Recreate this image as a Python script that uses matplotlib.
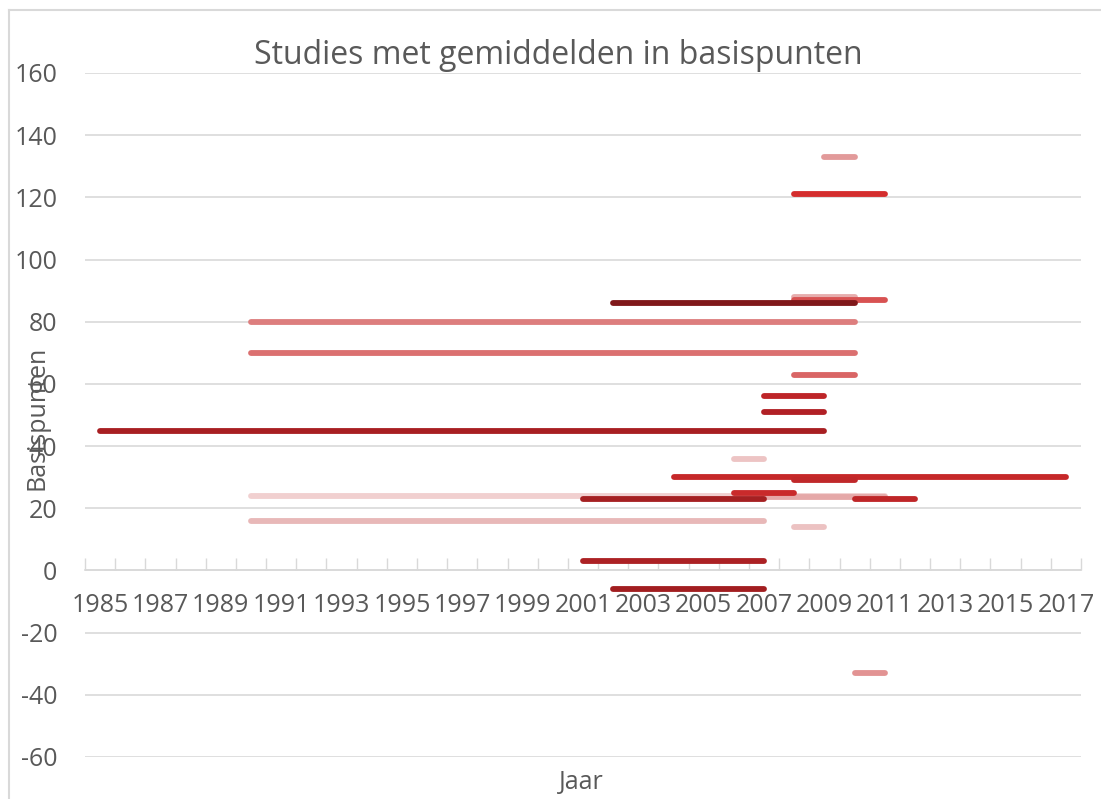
import numpy as np
import matplotlib.pyplot as plt
from matplotlib.lines import Line2D

## DATA: one horizontal segment per study (start year, end year, mean in bp)

start_year = [2009, 2008, 2008, 2008, 2002, 1990, 1990, 2008, 2007, 2007,
              1985, 2006, 2004, 2008, 1990, 2007, 2006, 2001, 2010, 1990,
              2008, 2001, 2002, 2010]
end_year = [2010, 2011, 2010, 2011, 2010, 2010, 2010, 2010, 2009, 2009,
            2009, 2007, 2017, 2010, 2011, 2011, 2008, 2007, 2012, 2007,
            2009, 2007, 2007, 2011]
mean_bp = [133, 121, 88, 87, 86, 80, 70, 63, 56, 51,
           45, 36, 30, 29, 24, 23.6, 25, 23, 23, 16,
           14, 3, -6, -33]
colors = ['#e29a9a', '#d42d2d', '#e6adad', '#d85252', '#80181a', '#dd7e7e',
          '#db7070', '#d96565', '#be2528', '#b12025', '#a81f22', '#edc4c4',
          '#c62829', '#c0282a', '#f1d0d0', '#e5a8a8', '#c92a2b', '#a52022',
          '#bf2628', '#e8b8b8', '#ecc2c2', '#ac2124', '#a21e20', '#e29393']

years = list(range(1985, 2018))
year_labels = [str(y) if (y - 1985) % 2 == 0 else '' for y in years]

grey = '#595959'
grid = '#d9d9d9'
plt.rcParams['font.family'] = ['Open Sans', 'DejaVu Sans']
plt.rcParams['axes.unicode_minus'] = False

fig = plt.figure(figsize=(11.01, 7.99), dpi=100)
ax = fig.add_axes([85 / 1101, 1 - 757 / 799, (1081 - 85) / 1101, (757 - 73) / 799])

for x0, x1, v, c in zip(start_year, end_year, mean_bp, colors):
    ax.plot([x0, x1], [v, v], color=c, lw=4.2, solid_capstyle='round', zorder=3)

ax.set_xlim(1984.5, 2017.5)
ax.set_ylim(-60, 160)
ax.set_yticks(np.arange(-60, 161, 20))
ax.yaxis.grid(True, color=grid, lw=1.2)
ax.set_axisbelow(True)
ax.tick_params(axis='y', length=0, labelsize=18, labelcolor=grey, pad=20)

# category axis crossing at zero
for s in ['left', 'right', 'top']:
    ax.spines[s].set_visible(False)
ax.spines['bottom'].set_position(('data', 0))
ax.spines['bottom'].set_color(grid)
ax.spines['bottom'].set_linewidth(1.2)
ax.set_xticks(np.arange(1984.5, 2018, 1))
ax.set_xticklabels([])
ax.tick_params(axis='x', which='major', direction='in', length=9, color=grid, width=1)
ax.set_xticks(years, minor=True)
ax.set_xticklabels(year_labels, minor=True)
ax.tick_params(axis='x', which='minor', length=0, labelsize=18, labelcolor=grey, pad=16)

fig.text(558 / 1101, 1 - 55 / 799, 'Studies met gemiddelden in basispunten',
         ha='center', va='center', fontsize=23, color=grey)
fig.text(37 / 1101, 1 - 418 / 799, 'Basispunten', rotation=90,
         ha='center', va='center', fontsize=18, color=grey)
fig.text(581 / 1101, 1 - 783 / 799, 'Jaar', ha='center', va='center',
         fontsize=18, color=grey)

# chart frame
fig.add_artist(Line2D([9 / 1101, 9 / 1101], [0, 1 - 10 / 799], color=grid,
                      lw=1.5, transform=fig.transFigure))
fig.add_artist(Line2D([9 / 1101, 1], [1 - 10 / 799, 1 - 10 / 799], color=grid,
                      lw=1.5, transform=fig.transFigure))

fig.savefig('out.png', dpi=100)
